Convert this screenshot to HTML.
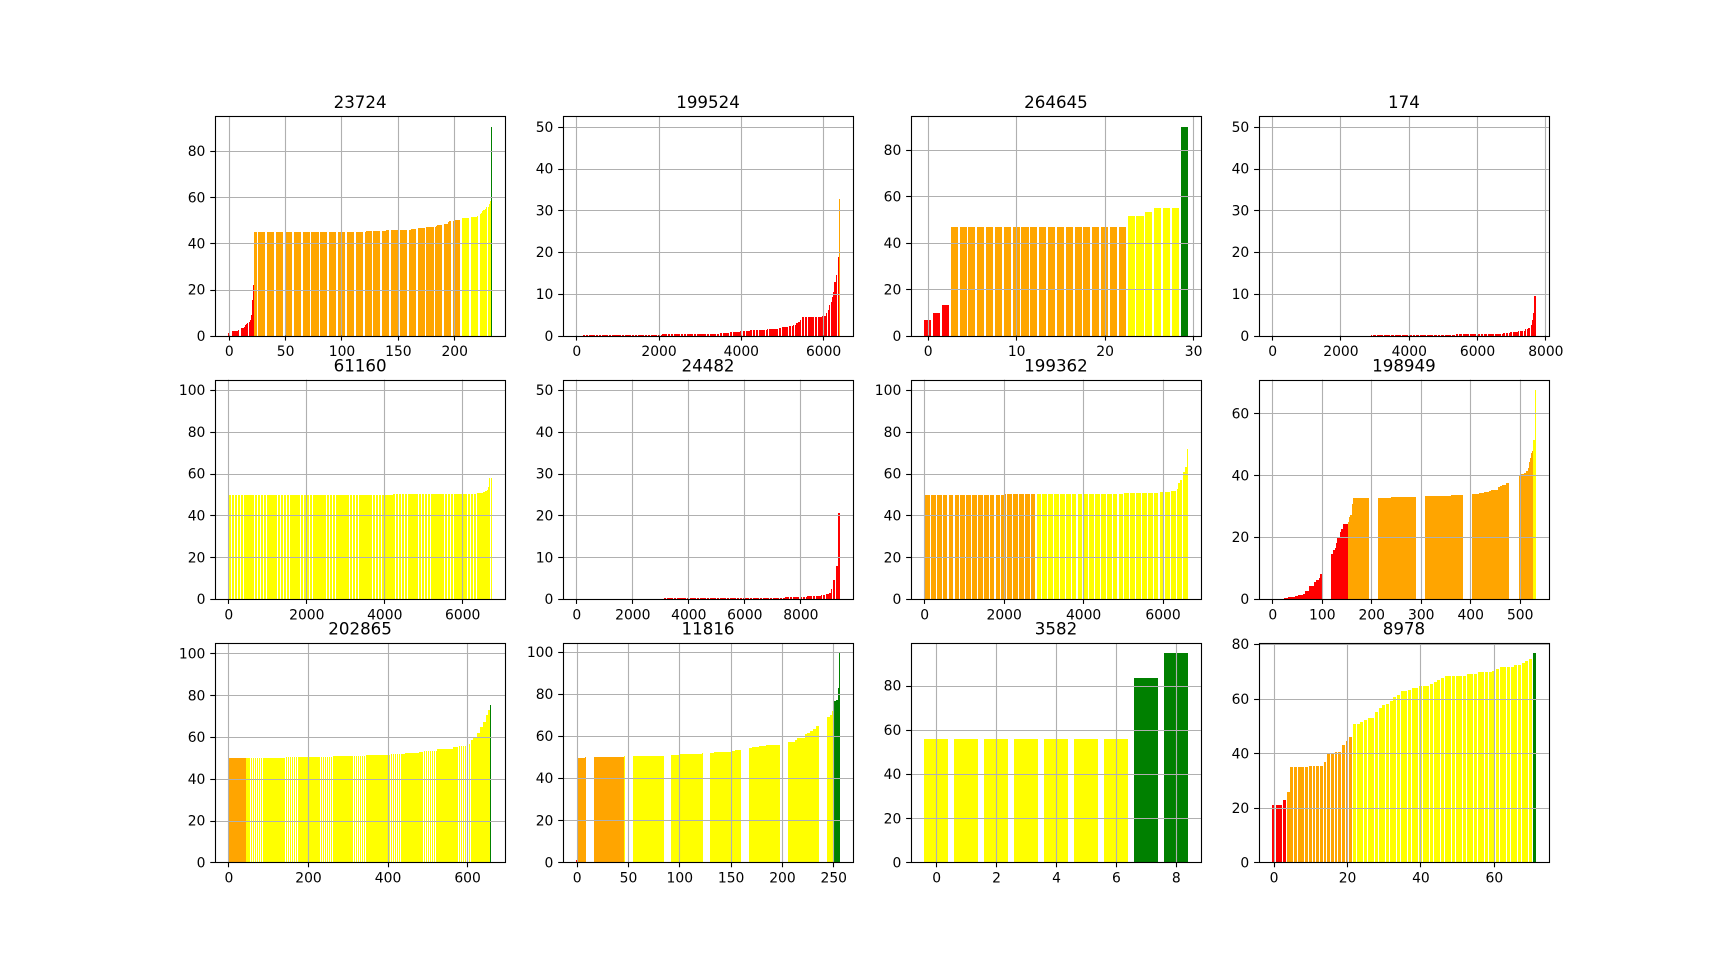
<!DOCTYPE html>
<html lang="en">
<head>
<meta charset="utf-8">
<title>Sorted score bar charts</title>
<style>
html,body{margin:0;padding:0;background:#fff;width:1721px;height:969px;overflow:hidden}
svg{display:block}
text{font-family:"DejaVu Sans","Liberation Sans",sans-serif;fill:#000}
</style>
</head>
<body>
<svg id="figure" width="1721" height="969" viewBox="0 0 1721 969" xmlns="http://www.w3.org/2000/svg"></svg>
<script>
const titles=['23724','199524','264645','174','61160','24482','199362','198949','202865','11816','3582','8978'];
const gradeColors=['#ff0000','#ffa500','#ffff00','#008000'];

const ends1=[0,2,8,9,13,14,15,16,17,18,19,20,21,22,121,139,158,161,167,174,183,184,190,194,195,199,205,209,214,220,222,223,224,225,227,228,230,231,232,233];
const vals1=[1.1,0,2.1,2.4,3.3,3.9,4.6,5.2,5.5,5.9,7,8.9,15.4,21.9,44.8,45.2,45.7,45.9,46.1,46.5,47,47.4,47.8,48.3,49.3,49.6,50,50.9,51.1,51.6,52,52.9,53.4,54,54.6,55,56,56.9,58.3,90.6];
const grades1=[23,183,27,1];

const ends2=[160,2083,3494,3732,3982,4232,4633,4904,4991,5143,5262,5338,5392,5446,5479,5968,6065,6119,6152,6185,6217,6239,6271,6304,6336,6380,6405,6406];
const vals2=[0,0.1,0.38,0.63,0.88,1.13,1.33,1.58,1.73,2.03,2.33,2.53,2.93,3.33,3.83,4.43,4.73,5.33,6.13,7.33,8.13,9.33,10.53,12.93,14.53,18.93,32.73,50];
const grades2=[6381,26,0,0];

const ends3=[0,1,2,22,24,25,28,29];
const vals3=[6.7,9.7,13.2,46.7,51.5,53.2,54.9,90];
const grades3=[3,20,6,1];

const ends4=[2880,5397,6746,6970,7205,7400,7493,7560,7600,7640,7676,7716,7717];
const vals4=[0,0.1,0.38,0.63,0.88,1.18,1.53,1.73,2.53,3.73,5.33,9.43,50];
const grades4=[7717,1,0,0];

const ends5=[4214,6366,6538,6595,6630,6664,6698,6760,6761];
const vals5=[49.7,50.2,50.7,51,51.6,52.4,53.7,57.7,100];
const grades5=[0,0,6762,0];

const ends6=[3120,7444,8081,8240,8719,8926,9038,9086,9134,9182,9230,9278,9340,9408,9409];
const vals6=[0,0.15,0.45,0.55,0.7,0.95,1.2,1.5,2.5,3.3,4.5,6,7.9,20.5,50];
const grades6=[9409,1,0,0];

const ends7=[2044,5031,5896,6177,6345,6400,6446,6491,6525,6570,6603,6633,6634];
const vals7=[49.7,50.2,50.7,51.2,51.6,52.9,55.3,56.9,58.5,60.8,63,71.7,100];
const grades7=[0,2809,3826,0];

const ends8=[5,22,32,46,52,61,66,74,84,88,93,96,117,119,123,126,128,130,136,138,142,152,154,156,160,162,239,290,360,402,417,427,437,442,455,459,464,472,496,501,509,513,516,518,520,522,525,527,530,532];
const vals8=[0.16,0,0.31,0.61,0.96,1.26,1.56,2.56,4.16,5.36,6.06,6.96,7.96,14.16,14.66,15.96,16.56,17.96,19.86,21.66,22.76,24.16,24.86,26.56,27.26,30.86,32.56,32.86,33.16,33.56,33.86,34.16,34.46,34.86,35.36,36.16,36.66,36.96,37.56,39.66,40.26,40.66,41.26,42.46,44.16,45.66,47.16,47.86,51.26,67.5];
const grades8=[153,375,5,0];

const ends9=[141,259,343,405,444,478,489,523,547,564,579,596,607,615,624,631,640,646,652,656,661,662];
const vals9=[49.9,50.4,50.9,51.4,51.8,52.3,52.8,53.3,54.1,54.4,55.2,55.7,56.5,58.5,59.8,61.7,64.9,67.3,70.5,72.9,75.3,100];
const grades9=[0,44,613,6];

const ends10=[0,8,46,90,100,122,133,150,154,166,170,177,184,204,212,214,222,224,227,230,233,242,246,248,250,252,253,254,255,256];
const vals10=[1,49.4,49.9,50.4,50.9,51.3,51.8,52.3,52.8,53.4,54.2,54.7,55.2,55.6,57.1,58,59.1,60.9,61.5,62.4,63.1,64.7,68.9,69.9,72,76.5,76.9,77.3,82.6,99.2];
const grades10=[1,46,204,6];

const ends11=[6,7,8];
const vals11=[55.7,83.3,94.6];
const grades11=[0,0,7,2];

const ends12=[0,1,2,3,4,9,13,14,16,18,19,20,21,23,24,25,27,28,29,30,31,32,33,34,36,37,39,42,43,44,45,46,52,55,59,60,61,65,67,68,69,70,71];
const vals12=[20.9,20.9,20.9,22.7,25.7,34.8,35.2,36.7,39.6,40.3,42.9,44.4,45.8,50.6,51.3,52.1,52.8,55,56.7,57.6,58.2,59,60.5,61.2,62.7,63.1,63.8,64.5,65.3,66,66.7,67.5,68.2,68.9,69.7,70,70.8,71.5,72.2,73,73.7,74.4,76.6];
const grades12=[4,18,49,1];

const xTicks1=[0,50,100,150,200];
const xTicks2=[0,2000,4000,6000];
const xTicks3=[0,10,20,30];
const xTicks4=[0,2000,4000,6000,8000];
const xTicks5=[0,2000,4000,6000];
const xTicks6=[0,2000,4000,6000,8000];
const xTicks7=[0,2000,4000,6000];
const xTicks8=[0,100,200,300,400,500];
const xTicks9=[0,200,400,600];
const xTicks10=[0,50,100,150,200,250];
const xTicks11=[0,2,4,6,8];
const xTicks12=[0,20,40,60];

const yTicks1=[0,20,40,60,80];
const yTicks2=[0,10,20,30,40,50];
const yTicks3=[0,20,40,60,80];
const yTicks4=[0,10,20,30,40,50];
const yTicks5=[0,20,40,60,80,100];
const yTicks6=[0,10,20,30,40,50];
const yTicks7=[0,20,40,60,80,100];
const yTicks8=[0,20,40,60];
const yTicks9=[0,20,40,60,80,100];
const yTicks10=[0,20,40,60,80,100];
const yTicks11=[0,20,40,60,80];
const yTicks12=[0,20,40,60,80];

const allEnds=[ends1,ends2,ends3,ends4,ends5,ends6,ends7,ends8,ends9,ends10,ends11,ends12];
const allVals=[vals1,vals2,vals3,vals4,vals5,vals6,vals7,vals8,vals9,vals10,vals11,vals12];
const allGrades=[grades1,grades2,grades3,grades4,grades5,grades6,grades7,grades8,grades9,grades10,grades11,grades12];
const allXTicks=[xTicks1,xTicks2,xTicks3,xTicks4,xTicks5,xTicks6,xTicks7,xTicks8,xTicks9,xTicks10,xTicks11,xTicks12];
const allYTicks=[yTicks1,yTicks2,yTicks3,yTicks4,yTicks5,yTicks6,yTicks7,yTicks8,yTicks9,yTicks10,yTicks11,yTicks12];

const NS='http://www.w3.org/2000/svg';
const figure=document.getElementById('figure');
const snapEdge=v=>Math.floor(v+0.5);
const snapLine=v=>Math.floor(v+0.5)+0.5;

function make(tag,parent){
  const el=document.createElementNS(NS,tag);
  parent.appendChild(el);
  return el;
}
function setAll(el,props){
  Object.keys(props).forEach(k=>el.setAttribute(k,props[k]));
}
function expandRuns(ends,vals){
  const out=[];
  let k=0;
  const last=ends[ends.length-1];
  for(let i=0;i<=last;i++){
    while(i>ends[k])k++;
    out.push(vals[k]);
  }
  return out;
}
function gradeOf(i,grades){
  let sum=0;
  for(let g=0;g<grades.length;g++){
    sum+=grades[g];
    if(i<sum)return g;
  }
  return grades.length-1;
}

const axW=1721*0.775/4.6, axH=969*0.77/3.4;
const stepX=axW*1.2, stepY=axH*1.2;
const TICK=3.5*100/72, LW=0.8*100/72, PAD=3.5*100/72;

titles.forEach((title,p)=>{
  const col=p%4, row=Math.floor(p/4);
  const left=1721*0.125+col*stepX;
  const top=969*0.12+row*stepY;
  const right=left+axW, bottom=top+axH;
  const values=expandRuns(allEnds[p],allVals[p]);
  const n=values.length;
  const margin=0.05*(n-1+0.8);
  const xMin=-0.4-margin, xMax=n-1+0.4+margin;
  const yMax=Math.max.apply(null,values)*1.05;
  const sx=v=>left+(v-xMin)/(xMax-xMin)*axW;
  const sy=v=>bottom-(v/yMax)*axH;

  const g=make('g',figure);
  
  

  const bars=make('g',g);
  
  
  bars.setAttribute('shape-rendering','crispEdges');
  const base=snapEdge(sy(0));
  values.forEach((v,i)=>{
    const a=snapEdge(sx(i-0.4)), b=snapEdge(sx(i+0.4)), t=snapEdge(sy(v));
    if(b<=a||base<=t)return;
    const r=make('rect',bars);
    
    
    setAll(r,{x:a,y:t,width:b-a,height:base-t,fill:gradeColors[gradeOf(i,allGrades[p])]});
  });

  allXTicks[p].forEach(v=>{
    const x=snapLine(sx(v));
    const gl=make('line',g);
    
    
    setAll(gl,{x1:x,x2:x,y1:top,y2:bottom,stroke:'#b0b0b0','stroke-width':LW});
    const tk=make('line',g);
    
    
    setAll(tk,{x1:x,x2:x,y1:bottom,y2:bottom+TICK,stroke:'#000','stroke-width':LW});
    const lb=make('text',g);
    
    
    setAll(lb,{x:sx(v)+0.5,y:bottom+TICK+PAD+10.6,'text-anchor':'middle','font-size':13.89});
    lb.textContent=String(v);
  });

  allYTicks[p].forEach(v=>{
    const y=snapLine(sy(v));
    const gl=make('line',g);
    
    
    setAll(gl,{x1:left,x2:right,y1:y,y2:y,stroke:'#b0b0b0','stroke-width':LW});
    const tk=make('line',g);
    
    
    setAll(tk,{x1:left-TICK,x2:left,y1:y,y2:y,stroke:'#000','stroke-width':LW});
    const lb=make('text',g);
    
    
    setAll(lb,{x:left-TICK-PAD,y:sy(v)+5.05,'text-anchor':'end','font-size':13.89});
    lb.textContent=String(v);
  });

  const frame=make('rect',g);
  
  
  const fx0=snapLine(left), fx1=snapLine(right), fy0=snapLine(top), fy1=snapLine(bottom);
  setAll(frame,{x:fx0,y:fy0,width:fx1-fx0,height:fy1-fy0,fill:'none',stroke:'#000','stroke-width':LW});

  const tt=make('text',g);
  
  
  setAll(tt,{x:left+axW/2,y:top-8.33,'text-anchor':'middle','font-size':16.67});
  tt.textContent=title;
});
</script>
</body>
</html>
